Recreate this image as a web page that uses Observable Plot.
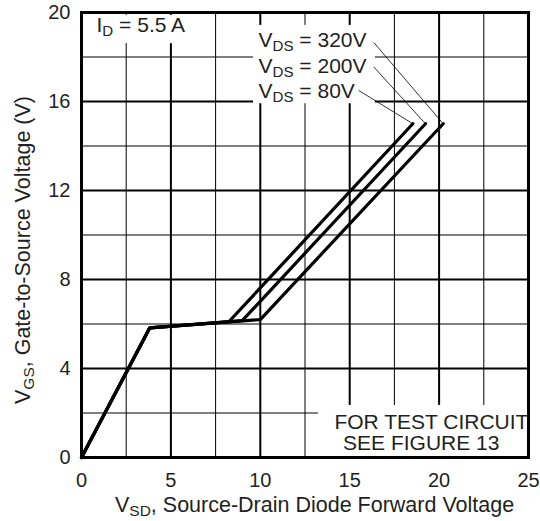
<!DOCTYPE html>
<html><head><meta charset="utf-8">
<script src="https://cdn.jsdelivr.net/npm/d3@7"></script>
<script src="https://cdn.jsdelivr.net/npm/@observablehq/plot@0.6"></script>
<style>
body{margin:0;background:#fff}
#chart svg{display:block}
</style></head><body><div id="chart"></div>
<script>
// ---- data ----
const seriesNames = ["V_{DS} = 80V", "V_{DS} = 200V", "V_{DS} = 320V"];
const vsd80  = [0, 3.82, 8.24, 18.53];
const vgs80  = [0, 5.83, 6.10, 15.0];
const vsd200 = [0, 3.82, 8.99, 19.24];
const vgs200 = [0, 5.83, 6.15, 15.0];
const vsd320 = [0, 3.82, 10.0, 20.23];
const vgs320 = [0, 5.83, 6.20, 15.0];

const xTicks = [0, 5, 10, 15, 20, 25];
const yTicks = [0, 4, 8, 12, 16, 20];
const xMajorGrid = [5, 10, 15, 20];
const xMinorGrid = [2.5, 7.5, 12.5, 17.5, 22.5];
const yMajorGrid = [4, 8, 12, 16];
const yMinorGrid = [2, 6, 10, 14, 18];

const xTitle = "V_{SD}, Source-Drain Diode Forward Voltage";
const yTitle = "V_{GS}, Gate-to-Source Voltage (V)";
const idLabel = "I_{D} = 5.5 A";
const noteLines = ["FOR TEST CIRCUIT", "SEE FIGURE 13"];

// ---- derived tables ----
const vsdAll = [vsd80, vsd200, vsd320];
const vgsAll = [vgs80, vgs200, vgs320];
const curves = seriesNames.flatMap((s, i) => vsdAll[i].map((v, j) => ({series: s, vsd: v, vgs: vgsAll[i][j]})));

// annotation placement (data coordinates)
const seriesLabelPos = [{x: 9.9, y: 16.45}, {x: 9.9, y: 17.6}, {x: 9.9, y: 18.75}];
const leaderStart = [{x: 15.5, y: 16.5}, {x: 16.35, y: 17.55}, {x: 16.35, y: 18.65}];
const labels = seriesNames.map((s, i) => ({text: s, ...seriesLabelPos[i]}));
const leaders = seriesNames.map((s, i) => ({
  x1: leaderStart[i].x, y1: leaderStart[i].y,
  x2: vsdAll[i][vsdAll[i].length - 1], y2: vgsAll[i][vgsAll[i].length - 1]
}));
const boxes = [
  {x1: 0.1, x2: 6.3, y1: 18.6, y2: 19.87},
  {x1: 9.62, x2: 16.44, y1: 15.9, y2: 19.42},
  {x1: 13.25, x2: 25, y1: 0, y2: 2.34}
];
const notes = [
  {text: noteLines[0], x: 19.57, y: 1.6},
  {text: noteLines[1], x: 19.0, y: 0.62}
];

const FONT = "'Liberation Sans', Arial, Helvetica, sans-serif";
const TXT = "#231f20";

const plot = Plot.plot({
  width: 540, height: 521,
  marginLeft: 81, marginRight: 12, marginTop: 12, marginBottom: 64,
  style: {fontFamily: FONT, background: "#fff", color: TXT},
  x: {domain: [0, 25]},
  y: {domain: [0, 20]},
  marks: [
    Plot.ruleX(xMinorGrid, {stroke: "#000", strokeWidth: 1}),
    Plot.ruleY(yMinorGrid, {stroke: "#000", strokeWidth: 1}),
    Plot.ruleX(xMajorGrid, {stroke: "#000", strokeWidth: 2}),
    Plot.ruleY(yMajorGrid, {stroke: "#000", strokeWidth: 2}),
    Plot.rect(boxes, {x1: "x1", x2: "x2", y1: "y1", y2: "y2", fill: "#fff"}),
    Plot.frame({stroke: "#000", strokeWidth: 3}),
    Plot.line(curves, {x: "vsd", y: "vgs", z: "series", stroke: "#000", strokeWidth: 3.2, strokeLinejoin: "miter"}),
    Plot.link(leaders, {x1: "x1", y1: "y1", x2: "x2", y2: "y2", stroke: "#000", strokeWidth: 0.8}),
    Plot.text(labels, {x: "x", y: "y", text: "text", textAnchor: "start", fontSize: 21, fill: TXT}),
    Plot.text([{text: idLabel, x: 0.84, y: 19.42}], {x: "x", y: "y", text: "text", textAnchor: "start", fontSize: 21, fill: TXT}),
    Plot.text(notes, {x: "x", y: "y", text: "text", fontSize: 21, fill: TXT}),
    Plot.axisX(xTicks, {tickSize: 0, tickPadding: 15, fontSize: 20, label: null, fill: TXT}),
    Plot.axisY(yTicks, {tickSize: 0, tickPadding: 11, fontSize: 20, label: null, fill: TXT})
  ]
});

document.getElementById("chart").appendChild(plot);

const svg = d3.select(plot);
svg.append("text").attr("class", "xtitle").attr("x", 115).attr("y", 512)
  .attr("text-anchor", "start").attr("font-size", 21.5).attr("fill", TXT).text(xTitle);
svg.append("text").attr("class", "ytitle").attr("transform", "translate(30,250) rotate(-90)")
  .attr("text-anchor", "middle").attr("font-size", 21.5).attr("fill", TXT).text(yTitle);

// subscripts
svg.selectAll("text").each(function() {
  const t = this.textContent;
  if (!t.includes("_{")) return;
  const fs = parseFloat(getComputedStyle(this).fontSize) || 21;
  const parts = t.split(/(_\{[^}]*\})/).filter(p => p);
  this.textContent = "";
  let shift = 0;
  for (const p of parts) {
    const m = p.match(/^_\{(.*)\}$/);
    const ts = d3.select(this).append("tspan");
    if (m) {
      ts.text(m[1]).attr("font-size", fs * 0.72).attr("dy", fs * 0.2);
      shift = fs * 0.2;
    } else {
      ts.text(p);
      if (shift) { ts.attr("dy", -shift); shift = 0; }
    }
  }
});
</script></body></html>
